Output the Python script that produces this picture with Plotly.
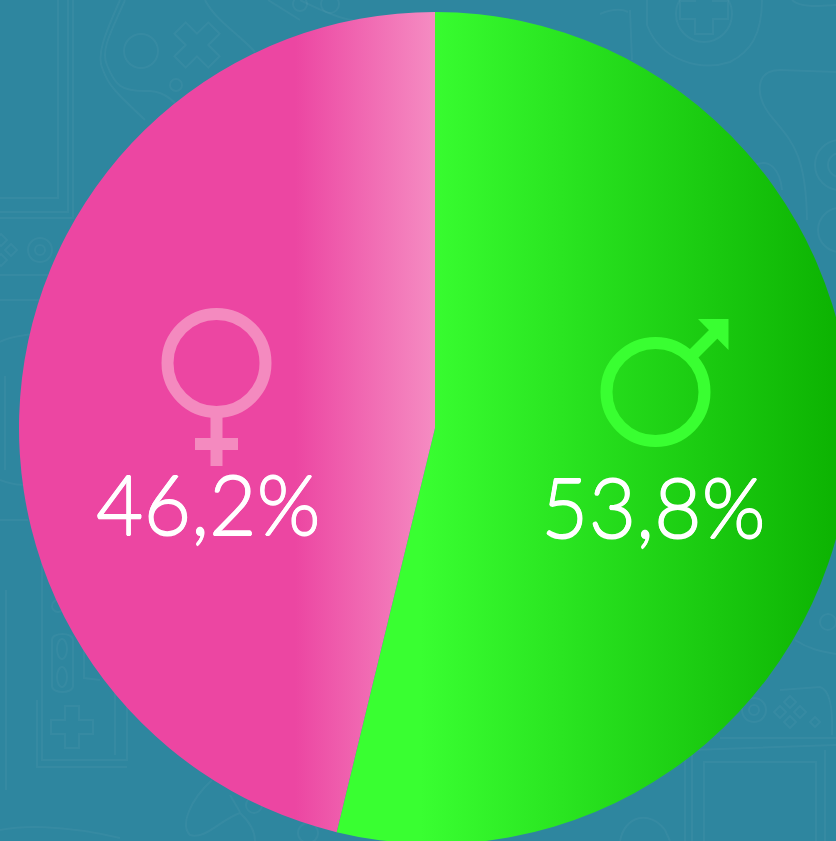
import math
import re
import plotly.graph_objects as go

# ---- data ----
labels = ["Homens", "Mulheres"]
values = [53.8, 46.2]
value_labels = ["53,8%", "46,2%"]
base_colors = ["#39FF31", "#EC46A2"]
male_gradient = [(420, "#39FF31"), (851, "#0BB000")]
female_gradient = [(295, "#EC46A2"), (435, "#F58CC2")]
background = "#2E869F"
icon_line = "rgba(255,255,255,0.04)"
female_symbol = "#F48ABF"
male_symbol = "#39FF31"

W, H = 860, 860
CX, CY, R = 435, 428, 416


def fx(p):
    return p / W


def fy(p):
    return 1 - p / H


def to_paper(path):
    idx = [0]

    def sub(m):
        v = float(m.group(0))
        out = fx(v) if idx[0] % 2 == 0 else fy(v)
        idx[0] += 1
        return f"{out:.5f}"

    return re.sub(r"-?\d+(\.\d+)?", sub, path)


def icon_path(d):
    return dict(type="path", path=to_paper(d), xref="paper", yref="paper", layer="below",
                line=dict(color=icon_line, width=2), fillcolor="rgba(0,0,0,0)")


def icon_circle(x, y, rx, ry=None):
    ry = ry or rx
    return dict(type="circle", xref="paper", yref="paper", layer="below",
                x0=fx(x - rx), x1=fx(x + rx), y0=fy(y + ry), y1=fy(y - ry),
                line=dict(color=icon_line, width=2), fillcolor="rgba(0,0,0,0)")


def cross(x, y, a, b, angle=0):
    pts = [(-b, -a), (b, -a), (b, -b), (a, -b), (a, b), (b, b), (b, a), (-b, a), (-b, b), (-a, b), (-a, -b), (-b, -b)]
    c, s = math.cos(math.radians(angle)), math.sin(math.radians(angle))
    out = [f"{x + px * c - py * s:.1f} {y + px * s + py * c:.1f}" for px, py in pts]
    return "M " + " L ".join(out) + " Z"


def diamond(x, y, r):
    return f"M {x} {y-r} L {x+r} {y} L {x} {y+r} L {x-r} {y} Z"


icons = [
    # top-left console
    icon_path("M 58 0 L 58 198 L 0 198"),
    icon_path("M 68 0 L 68 212 L 0 212"),
    icon_path("M 73 0 L 73 218 L 0 218"),
    icon_path("M 0 275 L 48 275"),
    icon_path("M 0 300 L 40 300"),
    icon_circle(40, 250, 12),
    icon_circle(40, 250, 5),
    icon_path(diamond(11, 250, 6)),
    icon_path(diamond(1, 240, 6)),
    icon_path(diamond(1, 260, 6)),
    icon_path("M 0 342 C 10 336 20 336 32 334"),
    icon_path("M 0 480 C 10 484 20 486 30 484"),
    icon_path("M 5 376 L 5 470"),
    icon_path("M 0 520 L 28 520"),
    # top-left controller
    icon_circle(141, 51, 17),
    icon_path(cross(197, 45, 24, 8, 45)),
    icon_circle(176, 85, 6),
    icon_path("M 125 0 C 112 30 100 50 107 65 C 115 85 120 92 150 91 C 165 92 175 100 190 122"),
    icon_path("M 120 0 C 107 30 95 55 103 70 C 110 90 125 100 145 120"),
    icon_path("M 205 0 C 215 20 240 35 255 52"),
    icon_path("M 268 0 L 300 20"),
    icon_path("M 300 0 C 340 20 360 25 385 20"),
    icon_circle(330, 4, 9),
    icon_circle(300, 4, 7),
    # bottom-left controller
    icon_path("M 42 560 L 42 760 L 127 760 L 127 690"),
    icon_path("M 37 700 L 37 767 L 127 767"),
    icon_path("M 115 690 L 115 755"),
    icon_path("M 52 640 C 52 632 73 632 73 640 L 73 686 C 73 694 52 694 52 686 Z"),
    icon_circle(62, 649, 5, 10),
    icon_circle(62, 677, 5, 10),
    icon_path(cross(72, 727, 21, 7)),
    icon_path("M 84 640 L 84 678 L 100 680"),
    icon_circle(58, 606, 6),
    icon_path("M 6 590 L 6 790"),
    icon_path("M 0 830 C 20 826 60 824 120 838"),
    icon_path("M 212 780 C 190 800 180 825 190 835 C 205 840 220 820 240 813 C 250 822 255 832 255 841"),
    icon_path("M 230 795 L 240 812"),
    icon_circle(254, 805, 8),
    icon_circle(308, 833, 10),
    # top-right controller
    icon_circle(704, 14, 28),
    icon_path(cross(704, 10, 24, 9)),
    icon_path("M 647 0 L 647 25 C 660 60 700 72 730 62 C 750 52 762 35 762 0"),
    icon_path("M 628 12 C 620 8 610 10 600 14"),
    icon_path("M 630 10 L 632 60"),
    icon_path("M 792 0 C 800 8 820 6 836 5"),
    icon_path("M 836 72 L 780 70 C 755 70 755 95 770 115 C 790 140 806 150 807 220"),
    icon_circle(840, 165, 25),
    icon_circle(840, 165, 12),
    icon_circle(840, 230, 22),
    icon_path("M 755 165 C 770 158 780 170 782 190"),
    # bottom-right console
    icon_path("M 704 841 L 704 762 L 816 762 L 816 841"),
    icon_path("M 692 841 L 692 750 L 836 745"),
    icon_path("M 685 841 L 685 755"),
    icon_path("M 825 841 L 825 750"),
    icon_path("M 720 738 L 836 738"),
    icon_path("M 780 690 L 820 687 C 830 690 833 710 832 735"),
    icon_circle(754, 710, 12),
    icon_circle(754, 710, 5),
    icon_path(diamond(790, 702, 6)),
    icon_path(diamond(780, 712, 6)),
    icon_path(diamond(800, 712, 6)),
    icon_path(diamond(790, 722, 6)),
    icon_path(diamond(815, 722, 5)),
    icon_path("M 620 841 C 625 815 650 810 665 830 L 670 841"),
    icon_path("M 795 640 C 810 650 825 652 836 654"),
    icon_circle(828, 622, 8),
]

symbol_line = lambda c, x0, y0, x1, y1, w=12: dict(
    type="line", xref="paper", yref="paper", layer="above",
    x0=fx(x0), y0=fy(y0), x1=fx(x1), y1=fy(y1), line=dict(color=c, width=w))
symbol_ring = lambda c, x, y: dict(
    type="circle", xref="paper", yref="paper", layer="above",
    x0=fx(x - 49), x1=fx(x + 49), y0=fy(y + 49), y1=fy(y - 49),
    line=dict(color=c, width=12), fillcolor="rgba(0,0,0,0)")

symbols = [
    symbol_ring(female_symbol, 216.5, 363),
    symbol_line(female_symbol, 216.5, 416, 216.5, 466),
    symbol_line(female_symbol, 195, 444, 238, 444),
    symbol_ring(male_symbol, 655.5, 392),
    symbol_line(male_symbol, 692, 355.5, 718, 329.5),
    dict(type="path", xref="paper", yref="paper", layer="above", fillcolor=male_symbol,
         line=dict(width=0), path=to_paper("M 698 319 L 728.5 319 L 728.5 350 Z")),
]

fig = go.Figure(go.Pie(
    labels=labels, values=values, sort=False, direction="clockwise", rotation=0,
    textinfo="none", hoverinfo="skip", showlegend=False,
    marker=dict(colors=base_colors, line=dict(width=0)),
    domain=dict(x=[fx(CX - R), fx(CX + R)], y=[fy(CY + R), fy(CY - R)]),
))

text_font = dict(family="Lato", size=82, color="#FFFFFF", weight=300,
                 shadow="0.6px 0 0 #FFFFFF, -0.6px 0 0 #FFFFFF, 0 0.6px 0 #FFFFFF, 0 -0.6px 0 #FFFFFF")
fig.update_layout(
    width=W, height=H, margin=dict(l=0, r=0, t=0, b=0, autoexpand=False),
    paper_bgcolor=background, plot_bgcolor=background, showlegend=False,
    shapes=icons + symbols,
    annotations=[
        dict(text=value_labels[0], x=fx(653), y=fy(506), xref="paper", yref="paper",
             showarrow=False, font=text_font, xanchor="center", yanchor="middle"),
        dict(text=value_labels[1], x=fx(208.5), y=fy(503), xref="paper", yref="paper",
             showarrow=False, font=text_font, xanchor="center", yanchor="middle"),
    ],
)


def stops(g):
    return "".join(f'<stop offset="{i/(len(g)-1)}" stop-color="{c}"/>' for i, (_, c) in enumerate(g))


post = """
document.documentElement.style.overflow='hidden';
document.body.style.margin='0';document.body.style.overflow='hidden';
var gd=document.getElementById('{plot_id}');
function paint(){
  var svg=gd.querySelector('.main-svg');
  if(!svg.querySelector('#gMale')){
    var ns='http://www.w3.org/2000/svg';
    var d=document.createElementNS(ns,'defs');
    d.innerHTML='<linearGradient id="gMale" gradientUnits="userSpaceOnUse" x1="%d" x2="%d" y1="0" y2="0">%s</linearGradient>'+
      '<linearGradient id="gFemale" gradientUnits="userSpaceOnUse" x1="%d" x2="%d" y1="0" y2="0">%s</linearGradient>';
    svg.insertBefore(d,svg.firstChild);
  }
  var s=gd.querySelectorAll('.slice path.surface');
  if(s.length==2){s[0].style.fill='url(#gMale)';s[1].style.fill='url(#gFemale)';}
}
paint();gd.on('plotly_afterplot',paint);
""" % (male_gradient[0][0], male_gradient[-1][0], stops(male_gradient),
       female_gradient[0][0], female_gradient[-1][0], stops(female_gradient))

fig.write_html("out.html", post_script=post, config=dict(displayModeBar=False))
